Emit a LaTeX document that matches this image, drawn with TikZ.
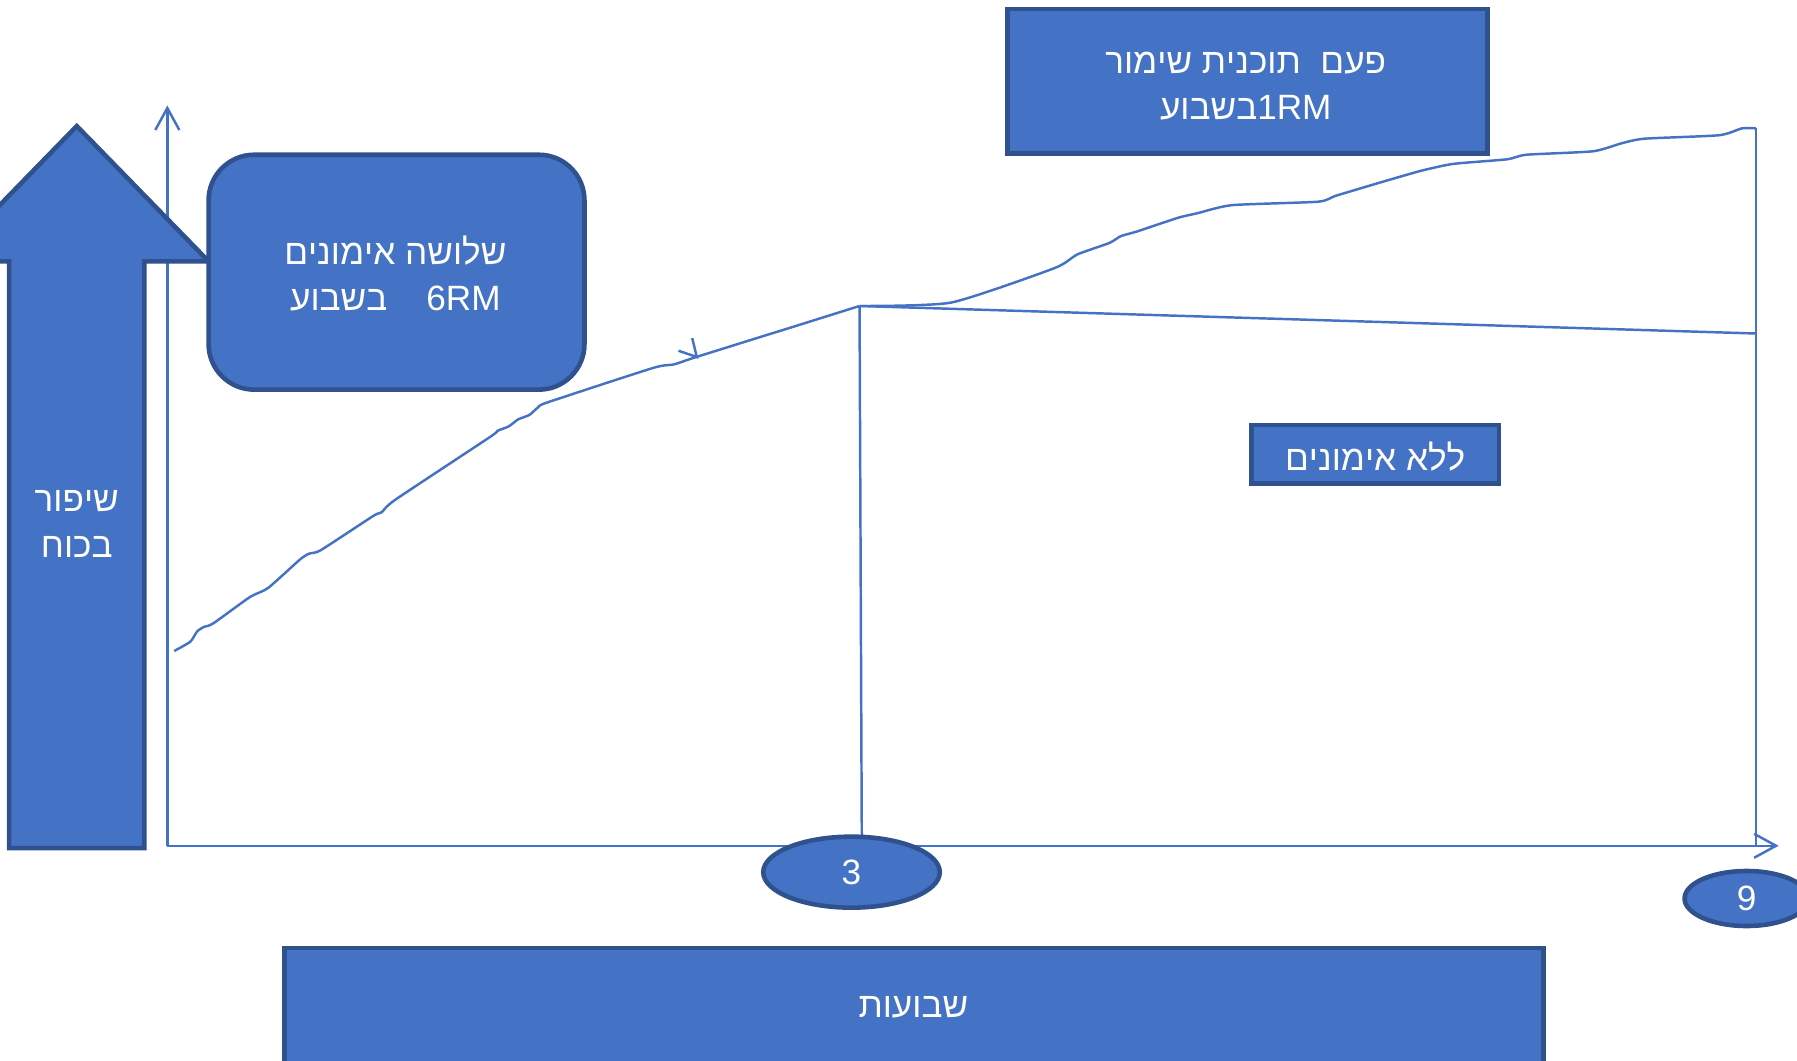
\documentclass[tikz,border=0pt]{standalone}
\usepackage{fontspec}
\setmainfont{Liberation Sans}
\usepackage{tikz}
\usetikzlibrary{arrows.meta,shapes.geometric}
\TeXXeTstate=1
\definecolor{boxblue}{RGB}{68,114,196}
\definecolor{rimblue}{RGB}{47,82,143}
\newcommand{\heb}[1]{\beginR #1\endR}

\begin{document}
\begin{tikzpicture}[x=0.01146cm, y=-0.01146cm,
  panel/.style={fill=boxblue, draw=rimblue, line width=1.3pt},
  caption/.style={text=white, align=center, inner sep=0pt,
    font=\fontsize{10}{13.1}\selectfont},
  graphline/.style={draw=boxblue, line width=0.7pt},
  axisarrow/.style={graphline, -{Straight Barb[length=2.2mm,width=2.4mm]}}]
  \useasboundingbox (0,0) rectangle (1568,925);

  % axes
  \coordinate (origin) at (146,738);
  \coordinate (ytop) at (146,92);
  \coordinate (xend) at (1552,738);
  \draw[axisarrow] (origin) -- (ytop);
  \draw[axisarrow] (origin) -- (xend);

  % strength curve
  \coordinate (start) at (152,568);
  \coordinate (week3) at (750,267);
  \coordinate (week9) at (1532,112);
  \coordinate (week3base) at (752,738);
  \coordinate (week9base) at (1532,738);
  \coordinate (detrain) at (1532,291);
  \draw[graphline] plot[smooth, tension=0.35] coordinates {
    (152,568) (166,560) (172,551) (178,547) (186,544) (218,521) (234,513)
    (262,488) (270,483) (280,480) (326,450) (333,447) (345,436) (428,381)
    (434,376) (444,372) (452,366) (462,362) (470,355) (478,351) (570,321)
    (588,318) (606,312) (670,292) (683,288) (750,267)};
  \draw[graphline] plot[smooth, tension=0.35] coordinates {
    (750,267) (830,264) (920,234) (940,222) (968,212) (978,206) (992,202)
    (1028,190) (1045,186) (1075,179) (1150,176) (1165,171) (1195,162)
    (1212,157) (1240,149) (1268,143) (1315,139) (1332,135) (1390,132)
    (1415,125) (1435,121) (1500,118) (1520,112) (1532,112)};
  \draw[graphline] (week3) -- (detrain);
  \draw[graphline] (week3) -- (week3base);
  \draw[graphline] (week9) -- (week9base);
  \draw[graphline] (592,306) -- (608,311.5) -- (604,295);

  % strength arrow
  \draw[panel] (8,740) -- (8,228) -- (-48,228) -- (67,110) -- (182,228)
    -- (126,228) -- (126,740) -- cycle;
  \node[caption] (gain) at (67,457) {\heb{שיפור}\\\heb{בכוח}};

  % boxes
  \draw[panel, rounded corners=13pt] (182,135) rectangle (510,340);
  \node[caption] (threeweekly) at (345,239)
    {\heb{שלושה אימונים}\\\heb{\beginL 6RM\endL\ \ \ \ בשבוע}};
  \draw[panel] (879,8) rectangle (1298,134);
  \node[caption] (maintain) at (1087,75)
    {\heb{פעם\ \ תוכנית שימור}\\\heb{\beginL 1RM\endL בשבוע}};
  \draw[panel] (1092,371) rectangle (1308,422);
  \node[caption] (notrain) at (1200,398) {\heb{ללא אימונים}};
  \draw[panel] (248,827) rectangle (1347,960);
  \node[caption] (weeks) at (797,879) {\heb{שבועות}};

  % week marks
  \node[panel, ellipse, inner sep=0pt, minimum width=1.765cm,
    minimum height=0.71cm] (mark3) at (743,761) {};
  \node[caption] at (mark3) {3};
  \node[panel, ellipse, inner sep=0pt, minimum width=1.24cm,
    minimum height=0.55cm] (mark9) at (1524,784) {};
  \node[caption] at (mark9) {9};
\end{tikzpicture}
\end{document}
